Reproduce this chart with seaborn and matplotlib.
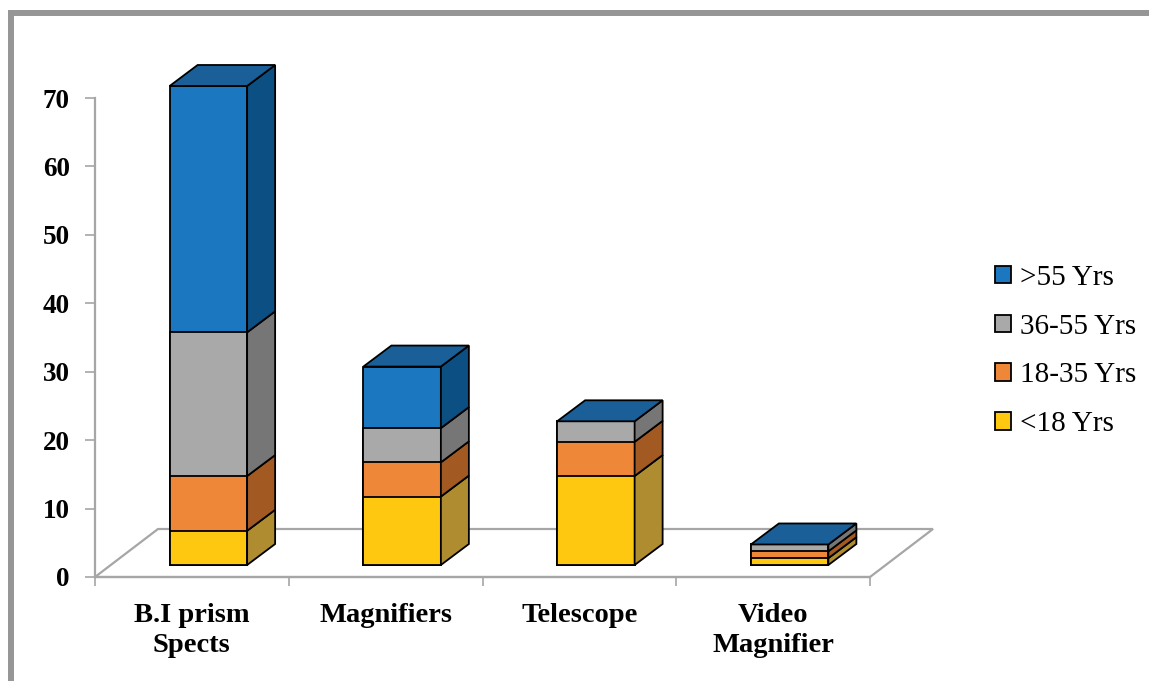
import numpy as np
import pandas as pd
import matplotlib
matplotlib.use("Agg")
import matplotlib.pyplot as plt
import seaborn as sns
from matplotlib.patches import Polygon, Patch
from matplotlib.lines import Line2D

# ---- data -------------------------------------------------------------
devices = ["B.I prism\nSpects", "Magnifiers", "Telescope", "Video\nMagnifier"]
groups = ["<18 Yrs", "18-35 Yrs", "36-55 Yrs", ">55 Yrs"]   # bottom -> top
under_18 = [5, 10, 13, 1]
age_18_35 = [8, 5, 5, 1]
age_36_55 = [21, 5, 3, 1]
over_55 = [36, 9, 0, 0]
y_ticks = [0, 10, 20, 30, 40, 50, 60, 70]

# ---- styling ----------------------------------------------------------
front_colors = {">55 Yrs": "#1A77C0", "36-55 Yrs": "#A9A9A9",
                "18-35 Yrs": "#EE8838", "<18 Yrs": "#FDC80F"}
side_colors = {">55 Yrs": "#0B4F83", "36-55 Yrs": "#767676",
               "18-35 Yrs": "#A35A22", "<18 Yrs": "#AE8C2F"}
top_color = "#1A5F98"
axis_gray = "#A6A6A6"

sns.set_theme(style="white")
plt.rcParams["font.family"] = ["Liberation Serif", "DejaVu Serif"]
plt.rcParams["text.color"] = "black"

W, H = 1149, 681
fig = plt.figure(figsize=(W / 100, H / 100), dpi=100)
ax = fig.add_axes([95 / W, (H - 577) / H, 775 / W, 479 / H])

# stacked layout: cumulative tops and bottoms of each segment
series = np.array([under_18, age_18_35, age_36_55, over_55], dtype=float)
tops = np.cumsum(series, axis=0)
bottoms = tops - series

stack_order = groups[::-1]  # tallest cumulative bar first, smaller ones overlay it
df = pd.DataFrame({
    "device": np.tile(devices, len(groups)),
    "group": np.repeat(groups, len(devices)),
    "top": tops.ravel(),
})

bar_w = 0.4
sns.barplot(data=df, x="device", y="top", hue="group", order=devices,
            hue_order=stack_order, palette=front_colors, dodge=False,
            width=bar_w, saturation=1, errorbar=None, legend=False,
            edgecolor="black", linewidth=1.3, ax=ax, zorder=3)

# pixel-based oblique projection converted to data units
px_x = 775 / 4.0
px_y = 479 / 70.0
ox, oy = 16.5 / px_x, 12 / px_y         # bar front plane vs. axis plane
ddx, ddy = 28 / px_x, 21 / px_y         # bar depth
fdx, fdy = 63 / px_x, 48 / px_y         # floor depth

for p in ax.patches:
    p.set_x(p.get_x() + ox)
    p.set_y(p.get_y() + oy)
    p.set_clip_on(False)

# floor
ax.add_patch(Polygon([(-0.5, 0), (3.5, 0), (3.5 + fdx, fdy), (-0.5 + fdx, fdy)],
                     closed=True, facecolor="none", edgecolor=axis_gray,
                     linewidth=1.6, zorder=1, clip_on=False))

# side and top faces
for i in range(len(devices)):
    xl = i - bar_w / 2 + ox
    xr = i + bar_w / 2 + ox
    for j, g in enumerate(groups):
        if series[j, i] <= 0:
            continue
        b = bottoms[j, i] + oy
        t = tops[j, i] + oy
        ax.add_patch(Polygon([(xr, b), (xr, t), (xr + ddx, t + ddy), (xr + ddx, b + ddy)],
                             closed=True, facecolor=side_colors[g], edgecolor="black",
                             linewidth=1.3, zorder=3, clip_on=False))
    t = tops[-1, i] + oy
    ax.add_patch(Polygon([(xl, t), (xr, t), (xr + ddx, t + ddy), (xl + ddx, t + ddy)],
                         closed=True, facecolor=top_color, edgecolor="black",
                         linewidth=1.3, zorder=3, clip_on=False))

# axes
ax.set_xlim(-0.5, 3.5)
ax.set_ylim(0, 70)
ax.set_xlabel("")
ax.set_ylabel("")
for s in ["top", "right"]:
    ax.spines[s].set_visible(False)
for s in ["left", "bottom"]:
    ax.spines[s].set_color(axis_gray)
    ax.spines[s].set_linewidth(1.6)
    ax.spines[s].set_zorder(2)
ax.spines["left"].set_bounds(0, 70)

ax.set_yticks(y_ticks)
ax.set_yticklabels([str(v) for v in y_ticks], fontsize=19.5, fontweight="bold")
ax.tick_params(axis="y", left=True, direction="out", length=7.2, width=1.2,
               color=axis_gray, labelcolor="black", pad=11)
ax.set_xticks(range(len(devices)))
ax.set_xticklabels(devices, fontsize=20.5, fontweight="bold", linespacing=1.22)
ax.tick_params(axis="x", which="major", bottom=True, length=0, pad=19,
               labelcolor="black")
ax.set_xticks(np.arange(-0.5, len(devices), 1.0), minor=True)
ax.tick_params(axis="x", which="minor", bottom=True, direction="out", length=6.5,
               width=1.2, color=axis_gray)

# legend
handles = [Patch(facecolor=front_colors[g], edgecolor="black", linewidth=1.3, label=g)
           for g in stack_order]
fig.legend(handles=handles, loc="upper left", bbox_to_anchor=(995 / W, 1 - 265 / H),
           frameon=False, fontsize=21, handlelength=0.55, handleheight=0.55,
           handletextpad=0.3, labelspacing=0.78, borderpad=0, borderaxespad=0,
           labelcolor="black")

# outer frame (top and left edges)
fig.add_artist(Line2D([11 / W, 11 / W, 1.0], [0.0, 1 - 12.5 / H, 1 - 12.5 / H],
                      transform=fig.transFigure, color="#969696", linewidth=4.3,
                      solid_joinstyle="miter"))

fig.savefig("out.png", dpi=100)
